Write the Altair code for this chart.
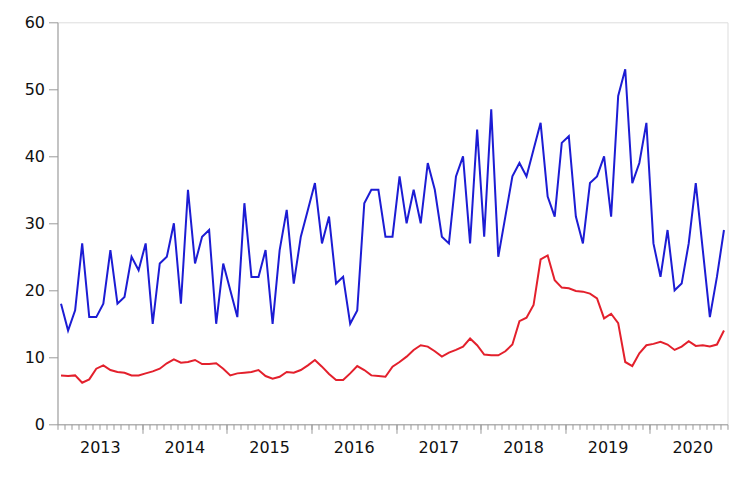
import altair as alt
import pandas as pd

# Monthly observations, Jan 2013 .. Nov 2020 (95 points)
blue = [18, 14, 17, 27, 16, 16, 18, 26, 18, 19, 25, 23,
        27, 15, 24, 25, 30, 18, 35, 24, 28, 29, 15, 24,
        20, 16, 33, 22, 22, 26, 15, 26, 32, 21, 28, 32,
        36, 27, 31, 21, 22, 15, 17, 33, 35, 35, 28, 28,
        37, 30, 35, 30, 39, 35, 28, 27, 37, 40, 27, 44,
        28, 47, 25, 31, 37, 39, 37, 41, 45, 34, 31, 42,
        43, 31, 27, 36, 37, 40, 31, 49, 53, 36, 39, 45,
        27, 22, 29, 20, 21, 27, 36, 26, 16, 22, 29]
red = [7.3, 7.2, 7.3, 6.2, 6.7, 8.3, 8.8, 8.1, 7.8, 7.7, 7.3, 7.3,
       7.6, 7.9, 8.3, 9.1, 9.7, 9.2, 9.3, 9.6, 9.0, 9.0, 9.1, 8.3,
       7.3, 7.6, 7.7, 7.8, 8.1, 7.2, 6.8, 7.1, 7.8, 7.7, 8.1, 8.8,
       9.6, 8.6, 7.5, 6.6, 6.6, 7.6, 8.7, 8.1, 7.3, 7.2, 7.1, 8.6,
       9.3, 10.1, 11.1, 11.8, 11.6, 10.9, 10.1, 10.7, 11.1, 11.6, 12.8, 11.8,
       10.4, 10.3, 10.3, 10.9, 11.9, 15.4, 15.9, 17.8, 24.6, 25.2, 21.5, 20.4,
       20.3, 19.9, 19.8, 19.5, 18.8, 15.8, 16.5, 15.1, 9.3, 8.7, 10.6, 11.8,
       12.0, 12.3, 11.9, 11.1, 11.6, 12.4, 11.7, 11.8, 11.6, 11.9, 14.0]
years = ["2013", "2014", "2015", "2016", "2017", "2018", "2019", "2020"]

idx = list(range(len(blue)))
df = pd.DataFrame({"idx": idx, "blue": blue, "red": red})

minor_vals = [k - 0.5 for k in range(0, 96)]
major_vals = [11.5 + 12 * k for k in range(7)]
label_vals = [5.5 + 12 * k for k in range(len(years))]
label_expr = "{" + ",".join(f"'{v}':'{y}'" for v, y in zip(label_vals, years)) + "}[toString(datum.value)]"

xscale = alt.Scale(domain=[-0.5, 94.5], nice=False, zero=False)
yscale = alt.Scale(domain=[0, 60], nice=False)
yaxis = alt.Axis(values=[0, 10, 20, 30, 40, 50, 60], tickSize=9, labelPadding=4,
                 grid=False, title=None, domainColor="#9a9a9a", tickColor="#9a9a9a",
                 labelFont="DejaVu Sans", labelFontSize=16, labelColor="#111111")

base = alt.Chart(df)

l_blue = base.mark_line(color="#1c1cd4", strokeWidth=2).encode(
    x=alt.X("idx:Q", scale=xscale,
            axis=alt.Axis(orient="bottom", values=minor_vals, tickSize=5, labels=False,
                          grid=False, title=None, domainColor="#9a9a9a", tickColor="#9a9a9a")),
    y=alt.Y("blue:Q", scale=yscale, axis=yaxis),
)
l_red = base.mark_line(color="#e3202c", strokeWidth=2).encode(
    x=alt.X("idx:Q", scale=xscale,
            axis=alt.Axis(orient="bottom", values=major_vals, tickSize=9, labels=False,
                          grid=False, title=None, domain=False, tickColor="#9a9a9a")),
    y=alt.Y("red:Q", scale=yscale, axis=yaxis),
)
l_lab = base.mark_line(opacity=0).encode(
    x=alt.X("idx:Q", scale=xscale,
            axis=alt.Axis(orient="bottom", values=label_vals, tickSize=0, ticks=False,
                          labelExpr=label_expr, labelPadding=15, domain=False,
                          grid=False, title=None, labelFont="DejaVu Sans",
                          labelFontSize=16, labelColor="#111111")),
    y=alt.Y("red:Q", scale=yscale, axis=yaxis),
)

chart = alt.layer(l_blue, l_red, l_lab).resolve_axis(x="independent").properties(
    width=670, height=402,
    autosize=alt.AutoSizeParams(type="none"),
    padding={"left": 49.5, "top": 14.3, "right": 8, "bottom": 40},
).configure_view(stroke="#9a9a9a", strokeWidth=1).configure(background="white")

chart.save("out.html", embed_options={"renderer": "svg", "actions": False})
